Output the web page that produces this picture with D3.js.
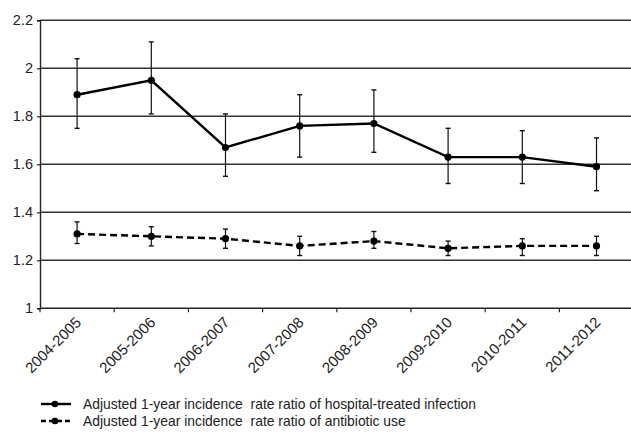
<!DOCTYPE html>
<html>
<head>
<meta charset="utf-8">
<script src="https://cdn.jsdelivr.net/npm/d3@7"></script>
<style>
  html, body { margin: 0; padding: 0; background: #fff; }
  svg { display: block; font-family: "Liberation Sans", Arial, sans-serif; }
</style>
</head>
<body>
<svg id="chart" width="631" height="439"></svg>
<script>
// Study periods
const periods = ["2004-2005", "2005-2006", "2006-2007", "2007-2008",
                 "2008-2009", "2009-2010", "2010-2011", "2011-2012"];

// Hospital-treated infection: adjusted IRR with 95% CI
const infectionIRR   = [1.89, 1.95, 1.67, 1.76, 1.77, 1.63, 1.63, 1.59];
const infectionLower = [1.75, 1.81, 1.55, 1.63, 1.65, 1.52, 1.52, 1.49];
const infectionUpper = [2.04, 2.11, 1.81, 1.89, 1.91, 1.75, 1.74, 1.71];

// Antibiotic use: adjusted IRR with 95% CI
const antibioticIRR   = [1.31, 1.30, 1.29, 1.26, 1.28, 1.25, 1.26, 1.26];
const antibioticLower = [1.27, 1.26, 1.25, 1.22, 1.25, 1.22, 1.22, 1.22];
const antibioticUpper = [1.36, 1.34, 1.33, 1.30, 1.32, 1.28, 1.29, 1.30];

const yTicks = [1, 1.2, 1.4, 1.6, 1.8, 2, 2.2];

const legendLabels = [
  "Adjusted 1-year incidence\u00a0 rate ratio of hospital-treated infection",
  "Adjusted 1-year incidence\u00a0 rate ratio of antibiotic use"
];

const svg = d3.select("#chart");
const W = 631;
const plotLeft = 40, plotRight = 633.6, plotTop = 20.3, plotBottom = 308.3;

const x = d3.scaleBand().domain(periods).range([plotLeft, plotRight]).padding(0);
const y = d3.scaleLinear().domain([1, 2.2]).range([plotBottom, plotTop]);
const cx = d => x(d) + x.bandwidth() / 2;

// Horizontal gridlines
svg.append("g").selectAll("line")
  .data(yTicks.filter(t => t > 1))
  .join("line")
  .attr("x1", plotLeft).attr("x2", W)
  .attr("y1", d => y(d)).attr("y2", d => y(d))
  .attr("stroke", "#333").attr("stroke-width", 1.6);

// Y axis
const yAxis = svg.append("g")
  .attr("transform", `translate(${plotLeft},0)`)
  .call(d3.axisLeft(y).tickValues(yTicks).tickSize(3).tickPadding(4)
    .tickFormat(d => String(+d.toFixed(1))));
yAxis.select(".domain").attr("stroke", "#222").attr("stroke-width", 1.4);
yAxis.selectAll(".tick line").attr("stroke", "#222").attr("stroke-width", 1.2);
yAxis.selectAll("text").attr("font-size", 14.5).attr("fill", "#222")
  .attr("font-family", "Liberation Sans, Arial, sans-serif");

// X axis baseline and boundary ticks
svg.append("line")
  .attr("x1", plotLeft).attr("x2", W)
  .attr("y1", plotBottom).attr("y2", plotBottom)
  .attr("stroke", "#222").attr("stroke-width", 1.6);
svg.append("g").selectAll("line")
  .data(periods)
  .join("line")
  .attr("x1", d => x(d)).attr("x2", d => x(d))
  .attr("y1", plotBottom).attr("y2", plotBottom + 4)
  .attr("stroke", "#222").attr("stroke-width", 1.2);

// Rotated period labels
svg.append("g").selectAll("text")
  .data(periods)
  .join("text")
  .attr("transform", d => `translate(${cx(d) + 5},${plotBottom + 15}) rotate(-45)`)
  .attr("text-anchor", "end")
  .attr("font-size", 15)
  .attr("fill", "#222")
  .text(d => d);

function drawSeries(values, lower, upper, dash) {
  const g = svg.append("g");
  // Error bars
  const eb = g.append("g").selectAll("g")
    .data(periods.map((p, i) => ({ p, lo: lower[i], hi: upper[i] })))
    .join("g");
  eb.append("line")
    .attr("x1", d => cx(d.p)).attr("x2", d => cx(d.p))
    .attr("y1", d => y(d.lo)).attr("y2", d => y(d.hi))
    .attr("stroke", "#111").attr("stroke-width", 1.2);
  eb.append("line")
    .attr("x1", d => cx(d.p) - 2.5).attr("x2", d => cx(d.p) + 2.5)
    .attr("y1", d => y(d.lo)).attr("y2", d => y(d.lo))
    .attr("stroke", "#111").attr("stroke-width", 1.4);
  eb.append("line")
    .attr("x1", d => cx(d.p) - 2.5).attr("x2", d => cx(d.p) + 2.5)
    .attr("y1", d => y(d.hi)).attr("y2", d => y(d.hi))
    .attr("stroke", "#111").attr("stroke-width", 1.4);
  // Connecting line
  const line = d3.line().x((d, i) => cx(periods[i])).y(d => y(d));
  g.append("path")
    .attr("d", line(values))
    .attr("fill", "none")
    .attr("stroke", "#000")
    .attr("stroke-width", 2.4)
    .attr("stroke-dasharray", dash);
  // Markers
  g.append("g").selectAll("circle")
    .data(values)
    .join("circle")
    .attr("cx", (d, i) => cx(periods[i]))
    .attr("cy", d => y(d))
    .attr("r", 3.6)
    .attr("fill", "#000");
}

drawSeries(infectionIRR, infectionLower, infectionUpper, null);
drawSeries(antibioticIRR, antibioticLower, antibioticUpper, "7,4");

// Legend
const legend = svg.append("g");
const legendDash = [null, "5,3"];
legendLabels.forEach((label, i) => {
  const ly = 404 + i * 17;
  legend.append("line")
    .attr("x1", 41).attr("x2", 71)
    .attr("y1", ly).attr("y2", ly)
    .attr("stroke", "#000").attr("stroke-width", 2.4)
    .attr("stroke-dasharray", legendDash[i]);
  legend.append("circle")
    .attr("cx", 55).attr("cy", ly).attr("r", 3.3).attr("fill", "#000");
  legend.append("text")
    .attr("x", 83).attr("y", ly + 5)
    .attr("font-size", 13.9)
    .attr("fill", "#222")
    .text(label);
});
</script>
</body>
</html>
